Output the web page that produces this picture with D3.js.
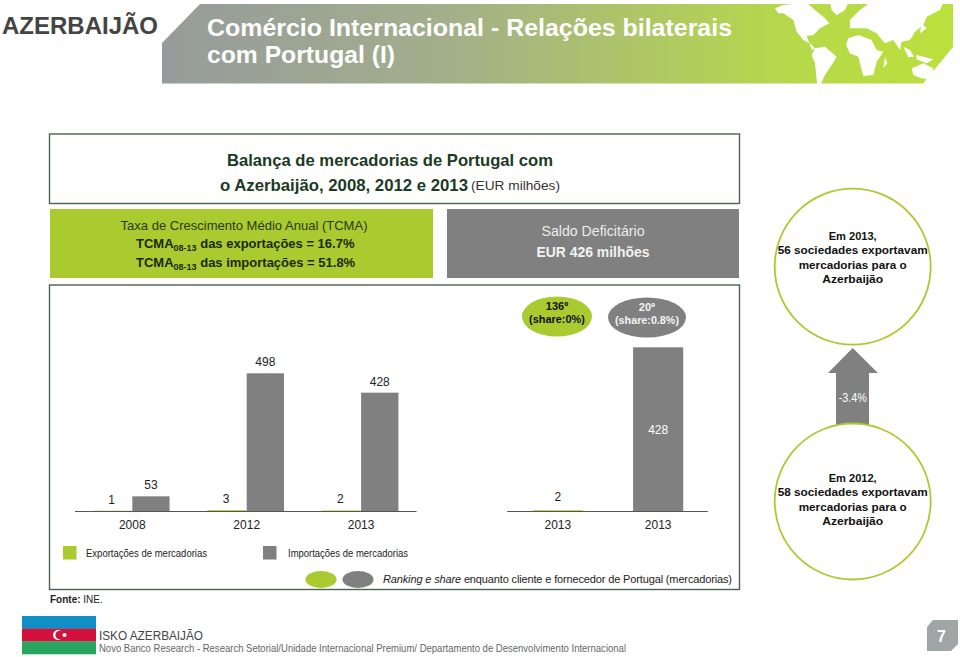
<!DOCTYPE html>
<html><head><meta charset="utf-8">
<script src="https://cdnjs.cloudflare.com/ajax/libs/d3/7.8.5/d3.min.js"></script>
<style>html,body{margin:0;padding:0;background:#fff}svg{display:block}text{font-family:"Liberation Sans",Arial,sans-serif}</style>
</head><body><svg id="c" width="960" height="657"></svg>
<script>
// Data
const years = ["2008", "2012", "2013"];
const exportsEUR = [1, 3, 2];
const importsEUR = [53, 498, 428];
const detailKeys = ["Exportações", "Importações"];
const detailLabels = ["2013", "2013"];
const detailValues = [2, 428];
const legendLabels = ["Exportações de mercadorias", "Importações de mercadorias"];

const GREEN = "#a9cb30", GRAY = "#808080", DARK = "#1c3a24", FRAME = "#4a6350";
const svg = d3.select("#c");

function T(parent, x, y, s, o = {}) {
  const t = parent.append("text").attr("x", x).attr("y", y).text(s)
    .attr("font-size", o.size || 12).attr("fill", o.fill || "#222")
    .attr("text-anchor", o.anchor || "start")
    .attr("font-weight", o.bold ? "bold" : "normal")
    .attr("font-style", o.italic ? "italic" : "normal");
  if (o.width) t.attr("textLength", o.width).attr("lengthAdjust", "spacingAndGlyphs");
  return t;
}

// Header
const defs = svg.append("defs");
const grad = defs.append("linearGradient").attr("id", "hdr").attr("x1", 0).attr("x2", 1).attr("y1", 0).attr("y2", 0);
grad.append("stop").attr("offset", "0").attr("stop-color", "#969b9b");
grad.append("stop").attr("offset", "0.35").attr("stop-color", "#a3ae8b");
grad.append("stop").attr("offset", "0.8").attr("stop-color", "#b6d94a");
grad.append("stop").attr("offset", "1").attr("stop-color", "#bbe03c");
const poly = pts => pts.map(p => p.join(",")).join(" ");
svg.append("polygon").attr("points", poly([[162,43],[200,4],[953,4],[953,47],[923,83.5],[162,83.5]])).attr("fill", "url(#hdr)");
defs.append("clipPath").attr("id", "hclip").append("polygon").attr("points", poly([[162,43],[200,4],[953,4],[953,47],[923,84],[162,84]]));
const map = svg.append("g").attr("clip-path", "url(#hclip)").append("g").attr("transform", "translate(770,0) scale(0.3333)");
[
 [[15,25],[40,15],[110,8],[135,30],[165,55],[178,70],[150,85],[130,105],[110,108],[118,130],[100,120],[80,95],[70,60],[40,40],[25,40]],
 [[180,8],[235,8],[225,30],[200,45],[185,30]],
 [[118,128],[135,145],[125,150]],
 [[135,145],[165,140],[200,170],[185,195],[165,225],[150,256],[142,256],[135,190],[125,165]],
 [[235,115],[265,105],[305,120],[320,150],[340,155],[320,185],[310,225],[280,228],[265,170],[240,160],[228,135]],
 [[240,60],[270,30],[300,8],[520,8],[510,30],[470,50],[460,75],[435,95],[420,120],[395,125],[390,150],[370,120],[345,130],[320,100],[290,85],[260,85],[240,85]],
 [[400,140],[420,150],[432,170],[415,172]],
 [[440,165],[490,178],[470,190],[440,178]],
 [[455,70],[470,85],[450,100]],
 [[425,205],[460,190],[490,205],[485,240],[455,235],[430,225]],
 [[345,170],[352,190],[340,205]]
].forEach(p => map.append("polygon").attr("points", poly(p)).attr("fill", "#fff"));

T(svg, 2, 34, "AZERBAIJÃO", {size: 23, bold: true, fill: "#444", width: 156});
T(svg, 207, 36, "Comércio Internacional - Relações bilaterais", {size: 24.5, bold: true, fill: "#fff", width: 525});
T(svg, 207, 63, "com Portugal (I)", {size: 24.5, bold: true, fill: "#fff", width: 188});

// Frames
svg.append("rect").attr("x", 49.5).attr("y", 134).attr("width", 690).attr("height", 69.5).attr("fill", "#fff").attr("stroke", FRAME).attr("stroke-width", 1.4);
svg.append("rect").attr("x", 49.5).attr("y", 285).attr("width", 690).attr("height", 304.5).attr("fill", "#fff").attr("stroke", FRAME).attr("stroke-width", 1.4);

T(svg, 390, 166, "Balança de mercadorias de Portugal com", {size: 17, bold: true, fill: DARK, anchor: "middle", width: 326});
T(svg, 220, 191, "o Azerbaijão, 2008, 2012 e 2013", {size: 16.5, bold: true, fill: DARK, width: 248});
T(svg, 471, 190, "(EUR milhões)", {size: 13, fill: "#333", width: 89});

// Boxes
svg.append("rect").attr("x", 50).attr("y", 209).attr("width", 383).attr("height", 69).attr("fill", GREEN);
svg.append("rect").attr("x", 447).attr("y", 209).attr("width", 292).attr("height", 69).attr("fill", GRAY);
T(svg, 244, 230, "Taxa de Crescimento Médio Anual  (TCMA)", {size: 13, anchor: "middle", fill: "#2c3a10", width: 247});
[[248, "16.7%", "exportações"], [267, "51.8%", "importações"]].forEach(([y, v, w]) => {
  const t = svg.append("text").attr("x", 136).attr("y", y).attr("font-size", 13).attr("font-weight", "bold").attr("fill", "#1e280a");
  t.append("tspan").text("TCMA");
  t.append("tspan").text("08-13").attr("font-size", 9).attr("dy", 3);
  t.append("tspan").text(" das " + w + " = " + v).attr("dy", -3);
});
T(svg, 593, 236, "Saldo Deficitário", {size: 14, anchor: "middle", fill: "#ececec", width: 103});
T(svg, 593, 257, "EUR 426 milhões", {size: 14, bold: true, anchor: "middle", fill: "#f2f2f2", width: 113});

// Circles and arrow
function circleBlock(cy, lines, top) {
  svg.append("circle").attr("cx", 852.7).attr("cy", cy).attr("r", 78).attr("fill", "#fff").attr("stroke", GREEN).attr("stroke-width", 1.8);
  lines.forEach((l, i) => T(svg, 852.7, top + i * 14.3, l, {size: 11.5, bold: true, anchor: "middle", fill: "#111", width: [48, 150, 108, 61][i]}));
}
svg.append("polygon").attr("points", poly([[852.7,348],[878,373],[869,373],[869,426],[836,426],[836,373],[828,373]])).attr("fill", GRAY);
circleBlock(266.7, ["Em 2013,", "56 sociedades exportavam", "mercadorias para o", "Azerbaijão"], 240);
circleBlock(501.5, ["Em 2012,", "58 sociedades exportavam", "mercadorias para o", "Azerbaijão"], 482);
T(svg, 852.7, 401.5, "-3.4%", {size: 12, anchor: "middle", fill: "#fff", width: 28});

// Rank ellipses
function ell(cx, cy, rx, ry, f) { svg.append("ellipse").attr("cx", cx).attr("cy", cy).attr("rx", rx).attr("ry", ry).attr("fill", f); }
ell(557, 316.5, 35, 20, GREEN);
ell(647, 317.5, 39, 20, GRAY);
T(svg, 557, 310, "136º", {size: 11, bold: true, anchor: "middle", fill: "#111"});
T(svg, 557, 323, "(share:0%)", {size: 11, bold: true, anchor: "middle", fill: "#111", width: 56});
T(svg, 647, 311, "20º", {size: 11, bold: true, anchor: "middle", fill: "#f4f4f4"});
T(svg, 647, 324, "(share:0.8%)", {size: 11, bold: true, anchor: "middle", fill: "#f4f4f4", width: 64});

// Chart 1: grouped bars
const baseY = 511;
const x0 = d3.scaleBand().domain(years).range([74.5, 416]).paddingInner(0.348).paddingOuter(0.1665).align(0.538);
const x1 = d3.scaleBand().domain(["e", "i"]).range([0, x0.bandwidth()]);
const y1 = d3.scaleLinear().domain([0, 498]).range([baseY, 373.3]);
const g1 = svg.append("g");
years.forEach((yr, i) => {
  g1.append("rect").attr("x", x0(yr) + x1("e") - 2).attr("width", x1.bandwidth() + 1.5).attr("y", y1(exportsEUR[i])).attr("height", baseY - y1(exportsEUR[i])).attr("fill", GREEN);
  g1.append("rect").attr("x", x0(yr) + x1("i")).attr("width", x1.bandwidth()).attr("y", y1(importsEUR[i])).attr("height", baseY - y1(importsEUR[i])).attr("fill", GRAY);
  T(g1, x0(yr) + x1("e") + x1.bandwidth() / 2 - 2, y1(exportsEUR[i]) - 7, exportsEUR[i], {size: 12, anchor: "middle"});
  T(g1, x0(yr) + x1("i") + x1.bandwidth() / 2, y1(importsEUR[i]) - 7, importsEUR[i], {size: 12, anchor: "middle"});
});
const ax1 = g1.append("g").attr("transform", `translate(0,${baseY})`).call(d3.axisBottom(x0).tickSize(0).tickPadding(9));
ax1.select(".domain").attr("stroke", "#555").attr("stroke-width", 1.2);
ax1.selectAll("text").attr("font-size", 12).attr("fill", "#222").attr("font-family", '"Liberation Sans",Arial,sans-serif');

// Chart 2: detail bars
const x2 = d3.scaleBand().domain(detailKeys).range([506.7, 707.3]).paddingInner(0.5).paddingOuter(0.25).align(0.52);
const y2 = d3.scaleLinear().domain([0, 428]).range([baseY, 347.3]);
const g2 = svg.append("g");
detailKeys.forEach((k, i) => {
  g2.append("rect").attr("x", x2(k)).attr("width", x2.bandwidth()).attr("y", y2(detailValues[i])).attr("height", baseY - y2(detailValues[i])).attr("fill", i ? GRAY : GREEN);
});
T(g2, x2(detailKeys[0]) + x2.bandwidth() / 2, 501, detailValues[0], {size: 12, anchor: "middle"});
T(g2, x2(detailKeys[1]) + x2.bandwidth() / 2, 434, detailValues[1], {size: 12, anchor: "middle", fill: "#fff"});
const ax2 = g2.append("g").attr("transform", `translate(0,${baseY})`).call(d3.axisBottom(x2).tickSize(0).tickPadding(9).tickFormat((d, i) => detailLabels[i]));
ax2.select(".domain").attr("stroke", "#555").attr("stroke-width", 1.2);
ax2.selectAll("text").attr("font-size", 12).attr("fill", "#222").attr("font-family", '"Liberation Sans",Arial,sans-serif');

// Legend
[[63, GREEN, 86, 121], [263, GRAY, 288, 120]].forEach(([x, c, tx, w], i) => {
  svg.append("rect").attr("x", x).attr("y", 546).attr("width", 13.5).attr("height", 13.5).attr("fill", c);
  T(svg, tx, 557, legendLabels[i], {size: 10.5, fill: "#222", width: w});
});
ell(321, 579.5, 15.5, 8.5, GREEN);
ell(358, 579.5, 15.5, 8.5, GRAY);
const rk = svg.append("text").attr("x", 383).attr("y", 583).attr("font-size", 11).attr("fill", "#222").attr("textLength", 349).attr("lengthAdjust", "spacing");
rk.append("tspan").text("Ranking e share ").attr("font-style", "italic");
rk.append("tspan").text("enquanto cliente e fornecedor de Portugal (mercadorias)");

// Source
const fs = svg.append("text").attr("x", 50).attr("y", 603).attr("font-size", 10).attr("fill", "#222");
fs.append("tspan").text("Fonte: ").attr("font-weight", "bold");
fs.append("tspan").text("INE.");

// Footer
[[616, "#0f8fc4"], [628.7, "#d4113a"], [641.4, "#2aa55e"]].forEach(([y, c]) => svg.append("rect").attr("x", 22).attr("y", y).attr("width", 74).attr("height", 12.9).attr("fill", c));
svg.append("circle").attr("cx", 58).attr("cy", 635).attr("r", 5).attr("fill", "#fff");
svg.append("circle").attr("cx", 59.6).attr("cy", 635).attr("r", 4.2).attr("fill", "#d4113a");
svg.append("circle").attr("cx", 64.5).attr("cy", 635).attr("r", 2).attr("fill", "#fff");
T(svg, 99, 639.5, "ISKO AZERBAIJÃO", {size: 12.5, fill: "#444", width: 104});
T(svg, 99, 651.5, "Novo Banco Research - Research Setorial/Unidade Internacional Premium/  Departamento de Desenvolvimento Internacional", {size: 10.5, fill: "#666", width: 527});
svg.append("polygon").attr("points", poly([[933,620],[958,620],[958,644],[951,651],[927,651],[927,627]])).attr("fill", "#a0a5a5");
T(svg, 941.5, 642, "7", {size: 16, bold: true, fill: "#fff", anchor: "middle"});
</script></body></html>
